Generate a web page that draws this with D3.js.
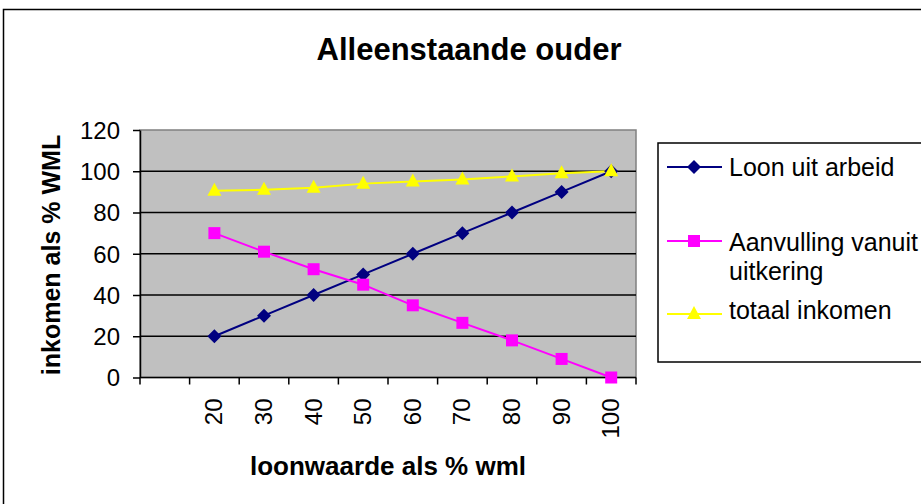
<!DOCTYPE html>
<html><head><meta charset="utf-8">
<script src="https://cdn.jsdelivr.net/npm/d3@7/dist/d3.min.js"></script>
<style>body{margin:0;background:#fff}svg{display:block;font-family:"Liberation Sans",Arial,sans-serif}</style>
</head><body>
<svg id="c" width="921" height="504"></svg>
<script>
const categories = ["", "20", "30", "40", "50", "60", "70", "80", "90", "100"];
const loon = [null, 20, 30, 40, 50, 60, 70, 80, 90, 100];
const aanvulling = [null, 70, 61, 52.5, 45, 35, 26.5, 18, 9, 0];
const totaal = [null, 90.5, 91, 92, 94, 95, 96, 97.5, 99, 100];
const yTicks = [0, 20, 40, 60, 80, 100, 120];
const seriesNames = ["Loon uit arbeid", "Aanvulling vanuit uitkering", "totaal inkomen"];

const svg = d3.select("#c");
svg.append("rect").attr("x",3.5).attr("y",9.5).attr("width",1000).attr("height",1000)
  .attr("fill","#fff").attr("stroke","#000").attr("stroke-width",1.5);

const L=140, R=636, T=130, B=377.5;
const x = d3.scaleBand().domain(categories.map((c,i)=>i)).range([L,R]);
const y = d3.scaleLinear().domain([0,120]).range([B,T]);

svg.append("rect").attr("x",L).attr("y",T).attr("width",R-L).attr("height",B-T)
  .attr("fill","#C0C0C0").attr("stroke","#808080").attr("stroke-width",1.5);

svg.append("g").selectAll("line").data(yTicks.filter(d=>d>0&&d<120)).join("line")
  .attr("x1",L).attr("x2",R).attr("y1",d=>y(d)).attr("y2",d=>y(d))
  .attr("stroke","#000").attr("stroke-width",1.5);

// y axis
const ya = svg.append("g").attr("transform",`translate(${L},0)`)
  .call(d3.axisLeft(y).tickValues(yTicks).tickSize(7).tickSizeOuter(0).tickPadding(13));
ya.select(".domain").attr("stroke","#000").attr("stroke-width",1.5);
ya.selectAll(".tick line").attr("stroke","#000").attr("stroke-width",1.5);
ya.selectAll("text").attr("font-size",24).attr("fill","#000").attr("font-family","Liberation Sans, Arial, sans-serif").attr("dy","0.35em");

// x axis ticks at band boundaries
const bounds = categories.map((c,i)=>x(i)).concat([R]);
svg.append("line").attr("x1",L).attr("x2",R).attr("y1",B).attr("y2",B).attr("stroke","#000").attr("stroke-width",1.5);
svg.append("g").selectAll("line").data(bounds).join("line")
  .attr("x1",d=>d).attr("x2",d=>d).attr("y1",B).attr("y2",B+7).attr("stroke","#000").attr("stroke-width",1.5);
svg.append("g").selectAll("text").data(categories).join("text")
  .attr("transform",(d,i)=>`translate(${x(i)+x.bandwidth()/2+8},${B+21}) rotate(-90)`)
  .attr("text-anchor","end").attr("font-size",24).attr("fill","#000").text(d=>d);

// series
const colors = ["#000080","#FF00FF","#FFFF00"];
const allSeries = [loon, aanvulling, totaal];
const line = d3.line().defined(d=>d[1]!=null).x(d=>x(d[0])+x.bandwidth()/2).y(d=>y(d[1]));
function marker(g, type, cx, cy, color){
  if(type===0){
    g.append("path").attr("d",`M${cx},${cy-7}L${cx+7},${cy}L${cx},${cy+7}L${cx-7},${cy}Z`).attr("fill",color);
  } else if(type===1){
    g.append("rect").attr("x",cx-6).attr("y",cy-6).attr("width",12).attr("height",12).attr("fill",color);
  } else {
    g.append("path").attr("d",`M${cx},${cy-8}L${cx+7},${cy+5}L${cx-7},${cy+5}Z`).attr("fill",color);
  }
}
allSeries.forEach((s,k)=>{
  const pts = s.map((v,i)=>[i,v]);
  svg.append("path").datum(pts).attr("d",line).attr("fill","none").attr("stroke",colors[k]).attr("stroke-width",2);
});
allSeries.forEach((s,k)=>{
  const g = svg.append("g");
  s.forEach((v,i)=>{ if(v!=null) marker(g,k,x(i)+x.bandwidth()/2,y(v),colors[k]); });
});

// title
svg.append("text").attr("x",469).attr("y",60).attr("text-anchor","middle").attr("font-size",31).attr("font-weight","bold").text("Alleenstaande ouder");
svg.append("text").attr("transform","translate(60,255) rotate(-90)").attr("text-anchor","middle").attr("font-size",25).attr("font-weight","bold").text("inkomen als % WML");
svg.append("text").attr("x",388).attr("y",475).attr("text-anchor","middle").attr("font-size",26).attr("font-weight","bold").text("loonwaarde als % wml");

// legend
svg.append("rect").attr("x",658).attr("y",143).attr("width",300).attr("height",219).attr("fill","#fff").attr("stroke","#000").attr("stroke-width",1.5);
const legY = [167, 241, 314];
const legBase = [176, 251, 319];
const legLines = [["Loon uit arbeid"],["Aanvulling vanuit","uitkering"],["totaal inkomen"]];
legY.forEach((ly,k)=>{
  svg.append("line").attr("x1",667).attr("x2",722).attr("y1",ly).attr("y2",ly).attr("stroke",colors[k]).attr("stroke-width",2);
  marker(svg,k,694,ly,colors[k]);
  const t = svg.append("text").attr("x",729).attr("y",legBase[k]).attr("font-size",25);
  legLines[k].forEach((ln,j)=>t.append("tspan").attr("x",729).attr("dy",j?29:0).text(ln));
});
</script>
</body></html>
